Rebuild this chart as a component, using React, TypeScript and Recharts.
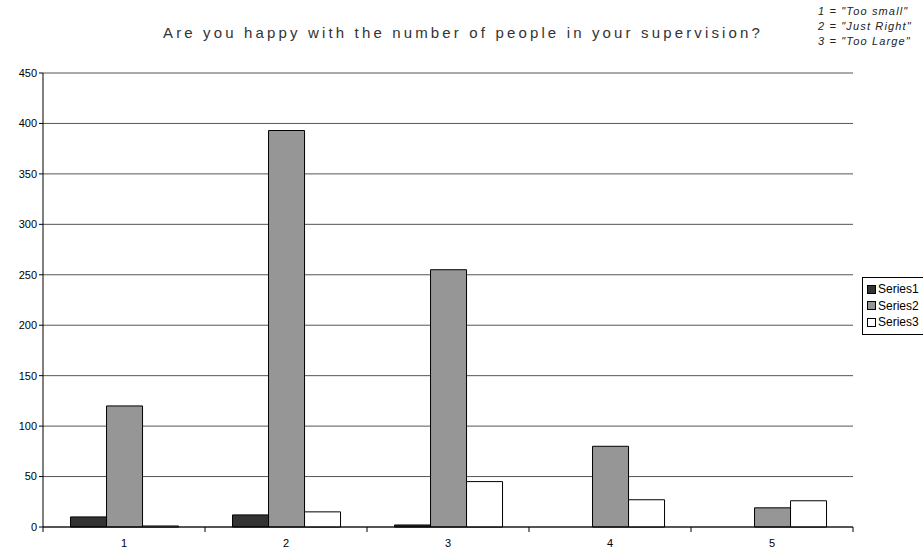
import React from 'react';
import { BarChart, Bar, XAxis, YAxis, CartesianGrid, Legend } from 'recharts';

const categories = ['1', '2', '3', '4', '5'];
const series1 = [10, 12, 2, 0, 0];
const series2 = [120, 393, 255, 80, 19];
const series3 = [1, 15, 45, 27, 26];
const yTicks = [0, 50, 100, 150, 200, 250, 300, 350, 400, 450];
const notes = ['1 = "Too small"', '2 = "Just Right"', '3 = "Too Large"'];

const data = categories.map((c, i) => ({
  cat: c,
  Series1: series1[i],
  Series2: series2[i],
  Series3: series3[i],
}));

const font = '"Liberation Sans", Arial, sans-serif';

const seriesStyle = [
  { key: 'Series1', fill: '#333333' },
  { key: 'Series2', fill: '#969696' },
  { key: 'Series3', fill: '#ffffff' },
];

// category labels plus tick marks between categories
function CatTick(props: any) {
  const { x, y, payload, index, visibleTicksCount } = props;
  const half = payload.offset || 0;
  return (
    <g>
      <line x1={x - half} y1={y - 8} x2={x - half} y2={y - 3} stroke="#000" />
      {index === visibleTicksCount - 1 && (
        <line x1={x + half} y1={y - 8} x2={x + half} y2={y - 3} stroke="#000" />
      )}
      <text x={x} y={y + 12} textAnchor="middle" fontSize={11} fontFamily={font} fill="#000">
        {payload.value}
      </text>
    </g>
  );
}

function LegendBox() {
  return (
    <div
      style={{
        marginLeft: 9,
        width: 70,
        border: '1px solid #000',
        padding: '3px 0 3px 4px',
        fontFamily: font,
        fontSize: 12,
        background: '#fff',
      }}
    >
      {seriesStyle.map((s) => (
        <div key={s.key} style={{ display: 'flex', alignItems: 'center', height: 16.5 }}>
          <span
            style={{
              display: 'inline-block',
              width: 7,
              height: 7,
              border: '1px solid #000',
              background: s.fill,
              marginRight: 2,
            }}
          />
          {s.key}
        </div>
      ))}
    </div>
  );
}

export default function App() {
  return (
    <div style={{ position: 'relative', width: 923, height: 550, background: '#fff', overflow: 'hidden' }}>
      <style>{`body{margin:0}`}</style>
      <div
        style={{
          position: 'absolute',
          left: 163,
          top: 24,
          whiteSpace: 'nowrap',
          fontFamily: font,
          fontSize: 15,
          letterSpacing: 3.15,
          color: '#333',
        }}
      >
        Are you happy with the number of people in your supervision?
      </div>
      <div
        style={{
          position: 'absolute',
          left: 818,
          top: 4,
          whiteSpace: 'nowrap',
          fontFamily: font,
          fontStyle: 'italic',
          fontSize: 11,
          letterSpacing: 1.15,
          lineHeight: '15px',
          color: '#222',
        }}
      >
        {notes.map((n) => (
          <div key={n}>{n}</div>
        ))}
      </div>
      <BarChart
        width={923}
        height={550}
        data={data}
        margin={{ top: 73, right: 0, bottom: 0, left: 0 }}
        barCategoryGap="17%"
        barGap={0}
        style={{ position: 'absolute', left: 0, top: 0 }}
      >
        <CartesianGrid vertical={false} stroke="#555" />
        <XAxis
          dataKey="cat"
          height={23}
          tickLine={false}
          axisLine={{ stroke: '#000' }}
          tick={<CatTick />}
          interval={0}
        />
        <YAxis
          domain={[0, 450]}
          ticks={yTicks}
          width={43}
          tickSize={4}
          tickLine={{ stroke: '#000' }}
          axisLine={{ stroke: '#000' }}
          tick={{ fontSize: 11, fontFamily: font, fill: '#000' }}
          interval={0}
        />
        <YAxis
          yAxisId="right"
          orientation="right"
          width={0}
          domain={[0, 450]}
          tick={false}
          tickLine={false}
          axisLine={{ stroke: '#999' }}
        />
        <Legend
          layout="vertical"
          align="right"
          verticalAlign="middle"
          content={<LegendBox />}
          wrapperStyle={{ width: 70, top: 277, right: 0 }}
        />
        {seriesStyle.map((s) => (
          <Bar
            key={s.key}
            dataKey={s.key}
            fill={s.fill}
            stroke="#000"
            strokeWidth={1}
            isAnimationActive={false}
          />
        ))}
      </BarChart>
    </div>
  );
}
